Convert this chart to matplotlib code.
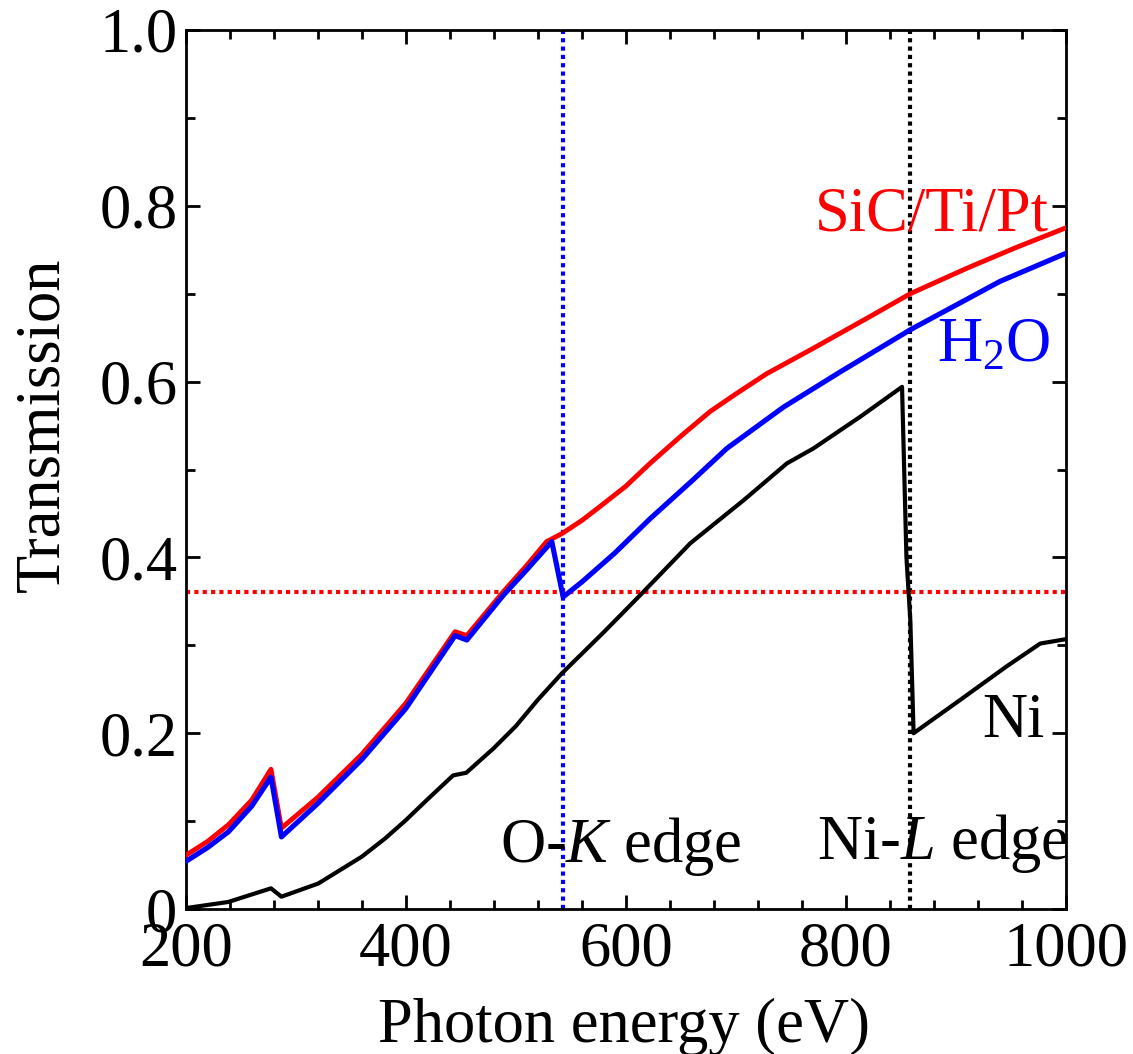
import matplotlib
matplotlib.use("Agg")
import matplotlib.pyplot as plt

# ---- data ----
sic_E = [200, 220, 239, 260, 277.5, 287, 320, 360, 400, 444.8, 455.5, 488.7, 510, 528, 541.8,
         560, 576.6, 600, 622, 650, 676.6, 700, 728, 770.5, 819, 858.5, 910, 955.5, 1000]
sic_T = [0.061, 0.077, 0.096, 0.124, 0.159, 0.092, 0.127, 0.176, 0.234, 0.3155, 0.311, 0.361,
         0.391, 0.418, 0.427, 0.442, 0.458, 0.481, 0.507, 0.538, 0.566, 0.586, 0.609, 0.638,
         0.672, 0.700, 0.729, 0.753, 0.775]

h2o_E = [200, 220, 239, 260, 277.5, 287, 320, 360, 400, 444.8, 455.5, 488.7, 510, 532.7, 543,
         560, 590, 622, 660, 691.8, 743.3, 794.8, 858.5, 900, 940, 1000]
h2o_T = [0.054, 0.070, 0.088, 0.117, 0.150, 0.082, 0.120, 0.170, 0.228, 0.311, 0.306, 0.357,
         0.386, 0.418, 0.355, 0.372, 0.405, 0.444, 0.487, 0.524, 0.571, 0.611, 0.659, 0.687,
         0.714, 0.746]

ni_E = [200, 238.7, 277.5, 287, 320.5, 360, 381, 400, 420, 443, 455, 480, 500, 520, 541.8, 580,
        613, 658.5, 707, 746.4, 770.5, 813, 851, 855, 858.5, 861.5, 904, 946, 976.6, 1000]
ni_T = [0.001, 0.008, 0.0235, 0.014, 0.029, 0.0595, 0.080, 0.101, 0.125, 0.152, 0.155, 0.183,
        0.208, 0.238, 0.268, 0.315, 0.357, 0.416, 0.465, 0.507, 0.524, 0.560, 0.594, 0.400,
        0.329, 0.200, 0.238, 0.276, 0.302, 0.307]

o_k_edge = 543
ni_l_edge = 858.5
threshold = 0.361

x_ticks = [200, 400, 600, 800, 1000]
y_ticks = [0, 0.2, 0.4, 0.6, 0.8, 1.0]
y_tick_labels = ["0", "0.2", "0.4", "0.6", "0.8", "1.0"]

# ---- style ----
plt.rcParams['font.family'] = ['Liberation Serif', 'DejaVu Serif']
plt.rcParams['mathtext.fontset'] = 'custom'
plt.rcParams['mathtext.rm'] = 'Liberation Serif'
plt.rcParams['mathtext.it'] = 'Liberation Serif:italic'
FS = 45

W, H = 1133, 1054
fig = plt.figure(figsize=(W / 100, H / 100), dpi=100)
L, R, B, T = 185.7, 1066, 909, 30
ax = fig.add_axes([L / W, (H - B) / H, (R - L) / W, (B - T) / H])

ax.plot(sic_E, sic_T, color='#ff0000', lw=3.5, zorder=3)
ax.plot(h2o_E, h2o_T, color='#0000ff', lw=3.7, zorder=4)
ax.plot(ni_E, ni_T, color='black', lw=3.0, zorder=5)

dot = (0, (1, 1))
ax.axvline(o_k_edge, color='#0000ff', lw=3, ls=dot, zorder=2)
ax.axvline(ni_l_edge, color='black', lw=3, ls=dot, zorder=2)
ax.axhline(threshold, color='#ff0000', lw=3, ls=dot, zorder=2)

ax.set_xlim(200, 1000)
ax.set_ylim(0, 1.0)
ax.set_xticks(x_ticks)
ax.set_xticklabels([str(v) for v in x_ticks])
ax.set_xticks(list(range(240, 1000, 40)), minor=True)
ax.set_yticks(y_ticks)
ax.set_yticklabels(y_tick_labels)
ax.set_yticks([0.1, 0.3, 0.5, 0.7, 0.9], minor=True)

for s in ax.spines.values():
    s.set_linewidth(2)
ax.tick_params(which='both', direction='in', top=True, right=True, width=2, labelsize=FS)
ax.tick_params(which='major', length=10)
ax.tick_params(which='minor', length=6.5)
ax.tick_params(axis='x', pad=9)
ax.tick_params(axis='y', pad=6)

def px(xp, yp):
    return xp / W, 1 - yp / H

# axis labels
fig.text(*px(624, 1041.7), 'Photon energy (eV)', fontsize=FS, ha='center', va='baseline')
fig.text(*px(58, 425), 'Transmission', fontsize=FS, ha='center', va='baseline',
         rotation=90, rotation_mode='anchor')

# annotations
ax.text(984, 0.772, 'SiC/Ti/Pt', color='#ff0000', fontsize=FS, ha='right', va='baseline')
ax.text(985.7, 0.623, r'H$_2$O', color='#0000ff', fontsize=FS, ha='right', va='baseline')
ax.text(981, 0.196, 'Ni', color='black', fontsize=FS, ha='right', va='baseline')
ax.text(485.7, 0.054, r'O-$\mathit{K}$ edge', color='black', fontsize=FS, ha='left', va='baseline')
ax.text(773.6, 0.0565, r'Ni-$\mathit{L}$ edge', color='black', fontsize=FS, ha='left', va='baseline')

fig.savefig('out.png', dpi=100)
